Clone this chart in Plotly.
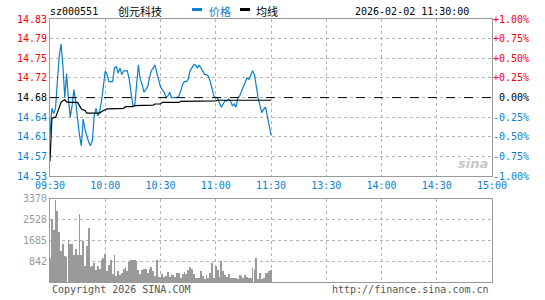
import plotly.graph_objects as go

# ---------------- data ----------------
prev_close = 14.68
code = "sz000551"
name = "创元科技"
stamp = "2026-02-02 11:30:00"

minutes = list(range(121))  # 09:30 .. 11:30

price = [14.61, 14.66, 14.65, 14.66, 14.71, 14.757, 14.78, 14.74, 14.68, 14.725,
         14.677, 14.643, 14.665, 14.695, 14.67, 14.634, 14.61, 14.59, 14.64, 14.62,
         14.607, 14.597, 14.59, 14.60, 14.646, 14.66, 14.646, 14.655, 14.674, 14.705,
         14.73, 14.723, 14.71, 14.71, 14.71, 14.735, 14.738, 14.726, 14.735, 14.723,
         14.73, 14.73, 14.73, 14.714, 14.69, 14.665, 14.665, 14.708, 14.741, 14.714,
         14.705, 14.69, 14.695, 14.70, 14.717, 14.73, 14.735, 14.741, 14.726, 14.714,
         14.70, 14.695, 14.69, 14.68, 14.683, 14.69, 14.68, 14.68, 14.68, 14.68,
         14.683, 14.692, 14.705, 14.71, 14.71, 14.714, 14.73, 14.735, 14.741, 14.741,
         14.735, 14.741, 14.735, 14.73, 14.723, 14.723, 14.72, 14.71, 14.695, 14.683,
         14.68, 14.68, 14.67, 14.662, 14.668, 14.674, 14.674, 14.677, 14.674, 14.665,
         14.668, 14.662, 14.68, 14.683, 14.692, 14.70, 14.708, 14.717, 14.714, 14.723,
         14.73, 14.723, 14.70, 14.68, 14.665, 14.652, 14.658, 14.662, 14.646, 14.628, 14.61]

avg = [14.561, 14.640, 14.643, 14.643, 14.652, 14.662, 14.671, 14.674, 14.676, 14.672,
       14.671, 14.671, 14.671, 14.671, 14.671, 14.671, 14.665, 14.659, 14.657, 14.656,
       14.651, 14.651, 14.651, 14.651, 14.651, 14.651, 14.651, 14.651, 14.654, 14.656,
       14.657, 14.659, 14.659, 14.659, 14.659, 14.659, 14.660, 14.660, 14.660, 14.660,
       14.660, 14.663, 14.663, 14.663, 14.663, 14.663, 14.665, 14.665, 14.665, 14.665,
       14.665, 14.666, 14.666, 14.666, 14.666, 14.666, 14.666, 14.668, 14.668, 14.668,
       14.668, 14.671, 14.671, 14.671, 14.671, 14.671, 14.671, 14.671, 14.671, 14.671,
       14.671, 14.673, 14.673, 14.673, 14.673, 14.673, 14.673, 14.673, 14.673, 14.673,
       14.673, 14.674, 14.674, 14.674, 14.674, 14.674, 14.674, 14.674, 14.674, 14.674,
       14.674, 14.675, 14.675, 14.675, 14.675, 14.675, 14.675, 14.675, 14.675, 14.675,
       14.675, 14.675, 14.675, 14.675, 14.675, 14.675, 14.675, 14.675, 14.675, 14.675,
       14.675, 14.676, 14.676, 14.676, 14.676, 14.676, 14.676, 14.676, 14.675, 14.675, 14.675]

volume = [972, 2570, 2104, 3340, 2900, 2050, 1265, 1530, 1065, 1010,
          1690, 1560, 1530, 1080, 1330, 1105, 2770, 1080, 1665, 665,
          1450, 2210, 610, 650, 770, 480, 640, 545, 880, 985,
          1120, 440, 680, 880, 320, 1105, 265, 440, 305, 385,
          545, 625, 440, 825, 880, 890, 880, 850, 480, 345,
          505, 530, 530, 360, 520, 610, 440, 265, 880, 225,
          175, 345, 215, 265, 425, 215, 345, 295, 215, 360,
          360, 185, 345, 400, 320, 480, 600, 545, 345, 175,
          185, 175, 440, 240, 135, 305, 145, 375, 770, 145,
          640, 480, 215, 840, 440, 305, 215, 345, 145, 175,
          185, 175, 135, 305, 265, 185, 305, 225, 145, 175,
          585, 480, 970, 135, 375, 135, 145, 375, 375, 440, 480]

time_ticks = [0, 30, 60, 90, 120, 150, 180, 210, 240]
time_labels = ["09:30", "10:00", "10:30", "11:00", "11:30", "13:30", "14:00", "14:30", "15:00"]
price_labels = ["14.53", "14.57", "14.61", "14.64", "14.68", "14.72", "14.75", "14.79", "14.83"]
pct_labels = ["-1.00%", "-0.75%", "-0.50%", "-0.25%", "0.00%", "+0.25%", "+0.50%", "+0.75%", "+1.00%"]
vol_ticks = [842, 1685, 2528, 3370]
vol_labels = ["842", "1685", "2528", "3370"]

# ---------------- styling ----------------
RED = "#ff0000"
BLUE = "#0a7fcc"
GRAY = "#9a9a9a"
GRID = "#b4b4b4"
MONO = "DejaVu Sans Mono, Liberation Mono, monospace"
CJK = "Noto Sans CJK SC, DejaVu Sans, sans-serif"

pct_vals = [(-1 + 0.25 * i) for i in range(9)]
price_vals = [prev_close * (1 + p / 100) for p in pct_vals]


def colorize(lbl, v):
    c = RED if v > 0 else (BLUE if v < 0 else "#000000")
    return f'<span style="color:{c}">{lbl}</span>'


left_text = [colorize(l, v) for l, v in zip(price_labels, pct_vals)]
right_text = [colorize(l if len(l) == 6 else "\u00a0" + l, v) for l, v in zip(pct_labels, pct_vals)]
pct_series = [(p / prev_close - 1) * 100 for p in price]

fig = go.Figure()
fig.add_trace(go.Scatter(x=minutes, y=price, mode="lines", line=dict(color=BLUE, width=1.2),
                         xaxis="x", yaxis="y", hoverinfo="skip"))
fig.add_trace(go.Scatter(x=minutes, y=avg, mode="lines", line=dict(color="#000000", width=1.2),
                         xaxis="x", yaxis="y", hoverinfo="skip"))
fig.add_trace(go.Scatter(x=minutes, y=pct_series, mode="lines", line=dict(width=0), opacity=0,
                         xaxis="x", yaxis="y3", hoverinfo="skip"))
fig.add_trace(go.Bar(x=minutes, y=volume, marker=dict(color=GRAY, line=dict(width=0)), width=0.45,
                     xaxis="x2", yaxis="y2", hoverinfo="skip"))

axis_common = dict(showline=True, linecolor=GRAY, linewidth=1, mirror=True, ticks="",
                   showgrid=True, gridcolor=GRID, griddash="dot", gridwidth=1, zeroline=False,
                   fixedrange=True)

fig.update_layout(
    width=545, height=300,
    margin=dict(l=50, r=53, t=19, b=15),
    paper_bgcolor="white", plot_bgcolor="white",
    showlegend=False, bargap=0,
    font=dict(family=MONO, size=10, color="#000"),
    xaxis=dict(domain=[0, 1], anchor="y", range=[0, 240], tickvals=time_ticks, ticktext=time_labels,
               tickfont=dict(family=MONO, size=10, color=BLUE), **axis_common),
    xaxis2=dict(domain=[0, 1], anchor="y2", range=[0, 240], tickvals=time_ticks, showticklabels=False,
                **axis_common),
    yaxis=dict(domain=[0.4023, 1], anchor="x", range=[price_vals[0], price_vals[-1]],
               tickvals=price_vals, ticktext=left_text, tickfont=dict(family=MONO, size=10), **axis_common),
    yaxis3=dict(overlaying="y", side="right", anchor="x", range=[-1, 1], tickvals=pct_vals,
                ticktext=right_text, tickfont=dict(family=MONO, size=10), showgrid=False,
                showline=False, zeroline=False, ticks="", fixedrange=True),
    yaxis2=dict(domain=[0, 0.3158], anchor="x2", range=[0, 3370], tickvals=vol_ticks, ticktext=vol_labels,
                tickfont=dict(family=MONO, size=10, color=GRAY), **axis_common),
)

# previous close dashed line
fig.add_shape(type="line", xref="x domain", yref="y", x0=0, x1=1, y0=prev_close, y1=prev_close,
              line=dict(color="#000000", width=1, dash="dash"), layer="above")

# header
hy = 1.030
fig.add_annotation(text=code, xref="paper", yref="paper", x=-0.005, y=hy, xanchor="left", yanchor="middle",
                   showarrow=False, font=dict(family=MONO, size=10, color="#000"))
fig.add_annotation(text=name, xref="paper", yref="paper", x=0.149, y=hy, xanchor="left", yanchor="middle",
                   showarrow=False, font=dict(family=CJK, size=11, color="#000"))
fig.add_shape(type="line", xref="paper", yref="paper", x0=0.3213, x1=0.3439, y0=hy + 0.006, y1=hy + 0.006,
              line=dict(color=BLUE, width=3))
fig.add_annotation(text="价格", xref="paper", yref="paper", x=0.355, y=hy, xanchor="left", yanchor="middle",
                   showarrow=False, font=dict(family=CJK, size=11, color=BLUE))
fig.add_shape(type="line", xref="paper", yref="paper", x0=0.4299, x1=0.4525, y0=hy + 0.006, y1=hy + 0.006,
              line=dict(color="#000", width=3))
fig.add_annotation(text="均线", xref="paper", yref="paper", x=0.4615, y=hy, xanchor="left", yanchor="middle",
                   showarrow=False, font=dict(family=CJK, size=11, color="#000"))
fig.add_annotation(text=stamp, xref="paper", yref="paper", x=0.9525, y=hy, xanchor="right", yanchor="middle",
                   showarrow=False, font=dict(family=MONO, size=10, color="#000"))

# footer
fy = -0.030
fig.add_annotation(text="Copyright 2026 SINA.COM", xref="paper", yref="paper", x=0.0, y=fy, xanchor="left",
                   yanchor="middle", showarrow=False, font=dict(family=MONO, size=10, color="#555"))
fig.add_annotation(text="http://finance.sina.com.cn", xref="paper", yref="paper", x=0.998, y=fy,
                   xanchor="right", yanchor="middle", showarrow=False, font=dict(family=MONO, size=10, color="#555"))

# watermark
fig.add_annotation(text="<b><i>sina</i></b>", xref="paper", yref="paper", x=0.957, y=0.452,
                   xanchor="center", yanchor="middle", showarrow=False,
                   font=dict(family="DejaVu Sans, sans-serif", size=13, color="#c8c8c8"))

fig.write_html("out.html")
